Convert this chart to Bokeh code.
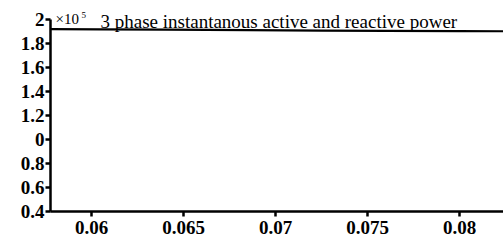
from bokeh.plotting import figure
from bokeh.models import Range1d, FixedTicker, Label
from bokeh.embed import file_html
from bokeh.resources import INLINE

# data (power in units of 1e5)
t = [0.0578, 0.0605, 0.0640, 0.0685, 0.0725, 0.0760, 0.0800, 0.0825]
p_val = [1.920, 1.918, 1.915, 1.912, 1.908, 1.905, 1.903, 1.902]

y_ticks = [0.4, 0.6, 0.8, 1.0, 1.2, 1.4, 1.6, 1.8, 2.0]
y_tick_labels = ["0.4", "0.6", "0.8", "0", "1.2", "1.4", "1.6", "1.8", "2"]
x_ticks = [0.06, 0.065, 0.07, 0.075, 0.08]
x_tick_labels = ["0.06", "0.065", "0.07", "0.075", "0.08"]
title_text = "3 phase instantanous active and reactive power"

FONT = "Liberation Serif"

p = figure(width=503, height=243, output_backend="svg", toolbar_location=None,
           x_range=Range1d(0.05777, 0.08239), y_range=Range1d(0.4, 2.1167),
           min_border_left=50, min_border_right=0, min_border_top=5, min_border_bottom=32)
p.outline_line_color = None
p.xgrid.visible = False
p.ygrid.visible = False
p.background_fill_color = "white"
p.border_fill_color = "white"

p.line(t, p_val, line_color="black", line_width=2.2)

for ax in (p.xaxis[0], p.yaxis[0]):
    ax.axis_line_color = "black"
    ax.axis_line_width = 2.5
    ax.major_tick_line_color = "black"
    ax.major_tick_line_width = 2.5
    ax.major_tick_in = 0
    ax.major_tick_out = 5
    ax.minor_tick_line_color = None
    ax.major_label_text_font = FONT
    ax.major_label_text_font_style = "bold"
    ax.major_label_text_font_size = "19px"
    ax.major_label_text_color = "black"

p.xaxis[0].ticker = FixedTicker(ticks=x_ticks)
p.xaxis[0].major_label_overrides = {v: s for v, s in zip(x_ticks, x_tick_labels)}
p.xaxis[0].major_label_standoff = 4
p.yaxis[0].ticker = FixedTicker(ticks=y_ticks)
p.yaxis[0].major_label_overrides = {v: s for v, s in zip(y_ticks, y_tick_labels)}
p.yaxis[0].major_label_standoff = 1
p.yaxis[0].bounds = (0.4, 2.0)

p.add_layout(Label(x=5, y=193, x_units="screen", y_units="screen", text="×10",
                   text_font=FONT, text_font_size="15px", text_color="black",
                   text_baseline="alphabetic"))
p.add_layout(Label(x=31, y=197, x_units="screen", y_units="screen", text="5",
                   text_font=FONT, text_font_size="9px", text_color="black",
                   text_baseline="alphabetic"))
p.add_layout(Label(x=50, y=190, x_units="screen", y_units="screen", text=title_text,
                   text_font=FONT, text_font_size="19px", text_color="black",
                   text_baseline="alphabetic"))

open("out.html", "w").write(file_html(p, INLINE))
